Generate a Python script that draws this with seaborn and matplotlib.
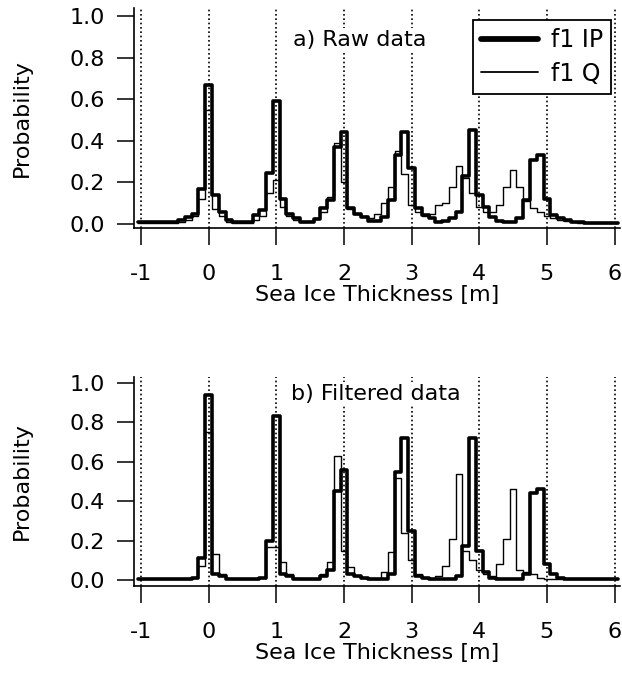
import numpy as np
import pandas as pd
import matplotlib
matplotlib.use("Agg")
import matplotlib.pyplot as plt
import seaborn as sns
from matplotlib.lines import Line2D

# ---------------- data (probability per 0.1 m thickness bin) ----------------
bin_centers = [round(-1.0 + 0.1 * k, 1) for k in range(71)]

raw_ip = [0.01, 0.01, 0.01, 0.01, 0.01, 0.01, 0.02, 0.035, 0.05, 0.17,
          0.67, 0.14, 0.06, 0.02, 0.01, 0.01, 0.01, 0.043, 0.067, 0.245,
          0.59, 0.12, 0.05, 0.03, 0.01, 0.01, 0.025, 0.075, 0.115, 0.37,
          0.44, 0.077, 0.05, 0.035, 0.015, 0.015, 0.035, 0.115, 0.33, 0.44,
          0.27, 0.077, 0.045, 0.03, 0.01, 0.015, 0.03, 0.06, 0.23, 0.45,
          0.14, 0.083, 0.035, 0.015, 0.01, 0.01, 0.03, 0.115, 0.31, 0.33,
          0.12, 0.043, 0.03, 0.02, 0.01, 0.01, 0.005, 0.005, 0.005, 0.005,
          0.005]
raw_q = [0.005, 0.005, 0.005, 0.005, 0.005, 0.005, 0.01, 0.02, 0.04, 0.12,
         0.55, 0.07, 0.04, 0.01, 0.005, 0.005, 0.005, 0.02, 0.04, 0.15,
         0.21, 0.08, 0.04, 0.02, 0.01, 0.015, 0.03, 0.06, 0.13, 0.39,
         0.20, 0.07, 0.05, 0.04, 0.03, 0.05, 0.10, 0.18, 0.35, 0.24,
         0.09, 0.06, 0.04, 0.05, 0.09, 0.10, 0.18, 0.28, 0.22, 0.15,
         0.08, 0.06, 0.06, 0.09, 0.18, 0.26, 0.18, 0.11, 0.075, 0.06,
         0.04, 0.03, 0.02, 0.015, 0.01, 0.005, 0.005, 0.005, 0.005, 0.005,
         0.005]
filt_ip = [0.005, 0.005, 0.005, 0.005, 0.005, 0.005, 0.005, 0.005, 0.01, 0.11,
           0.94, 0.03, 0.02, 0.005, 0.005, 0.005, 0.005, 0.005, 0.01, 0.20,
           0.83, 0.03, 0.02, 0.005, 0.005, 0.005, 0.005, 0.02, 0.05, 0.45,
           0.56, 0.03, 0.02, 0.01, 0.005, 0.005, 0.005, 0.03, 0.55, 0.72,
           0.25, 0.02, 0.01, 0.005, 0.005, 0.005, 0.005, 0.02, 0.175, 0.72,
           0.15, 0.04, 0.01, 0.005, 0.005, 0.005, 0.005, 0.03, 0.44, 0.46,
           0.08, 0.03, 0.01, 0.005, 0.005, 0.005, 0.005, 0.005, 0.005, 0.005,
           0.005]
filt_q = [0.005, 0.005, 0.005, 0.005, 0.005, 0.005, 0.005, 0.005, 0.01, 0.07,
          0.75, 0.13, 0.03, 0.01, 0.005, 0.005, 0.005, 0.005, 0.01, 0.17,
          0.17, 0.09, 0.03, 0.01, 0.005, 0.005, 0.005, 0.03, 0.09, 0.63,
          0.15, 0.065, 0.02, 0.01, 0.005, 0.005, 0.04, 0.14, 0.52, 0.24,
          0.10, 0.03, 0.01, 0.005, 0.02, 0.07, 0.21, 0.54, 0.15, 0.10,
          0.05, 0.03, 0.02, 0.08, 0.21, 0.46, 0.05, 0.04, 0.03, 0.01,
          0.005, 0.005, 0.005, 0.005, 0.005, 0.005, 0.005, 0.005, 0.005, 0.005,
          0.005]

series_labels = ["f1 IP", "f1 Q"]
panel_titles = ["a) Raw data", "b) Filtered data"]
x_ticks = [-1, 0, 1, 2, 3, 4, 5, 6]
y_ticks = [0.0, 0.2, 0.4, 0.6, 0.8, 1.0]

# ---------------- tidy table ----------------
n = len(bin_centers)
df = pd.DataFrame({
    "thickness": bin_centers * 4,
    "prob": raw_ip + raw_q + filt_ip + filt_q,
    "panel": [panel_titles[0]] * (2 * n) + [panel_titles[1]] * (2 * n),
    "series": ([series_labels[0]] * n + [series_labels[1]] * n) * 2,
})
bw = 0.1
edges = [c - bw / 2 for c in bin_centers] + [bin_centers[-1] + bw / 2]

# ---------------- style ----------------
sns.set_style("ticks")
plt.rcParams["font.family"] = ["DejaVu Sans"]
plt.rcParams["axes.unicode_minus"] = False
for key in ["text.color", "axes.labelcolor", "xtick.color", "ytick.color",
            "xtick.labelcolor", "ytick.labelcolor", "axes.edgecolor"]:
    plt.rcParams[key] = "black"
FS = 16

W, H = 622, 684
fig = plt.figure(figsize=(W / 100, H / 100), dpi=100)

def ax_rect(left, right, top, bottom):
    return [left / W, 1 - bottom / H, (right - left) / W, (bottom - top) / H]

ax1 = fig.add_axes(ax_rect(134, 620, 8, 228))
ax2 = fig.add_axes(ax_rect(134, 620, 377, 586))

lw_style = {series_labels[0]: 2.6, series_labels[1]: 1.0}

for ax, title, ylim, tpos in [
        (ax1, panel_titles[0], (-0.019, 1.038), (293, 40)),
        (ax2, panel_titles[1], (-0.030, 1.030), (291, 394))]:
    for xv in x_ticks:
        ax.axvline(xv, color="black", lw=1.2, ls=(0, (1, 1.6)), zorder=1)
    sub = df[df["panel"] == title]
    for s in series_labels[::-1]:
        sns.histplot(data=sub[sub["series"] == s], x="thickness", weights="prob",
                     bins=edges, element="step", fill=False, color="black",
                     linewidth=lw_style[s], ax=ax, zorder=3)
    ax.set_xlim(-1.103, 6.08)
    ax.set_ylim(*ylim)
    ax.set_xticks(x_ticks)
    ax.set_xticklabels([str(t) for t in x_ticks])
    ax.set_yticks(y_ticks)
    ax.set_yticklabels([f"{t:.1f}" for t in y_ticks])
    ax.set_xlabel("Sea Ice Thickness [m]", fontsize=FS, labelpad=1)
    ax.set_ylabel("Probability", fontsize=FS, labelpad=27)
    ax.tick_params(axis="both", direction="out", length=12, width=1.1,
                   labelsize=FS, color="black", labelcolor="black")
    ax.tick_params(axis="x", pad=14)
    ax.tick_params(axis="y", pad=9)
    for sp in ["top", "right"]:
        ax.spines[sp].set_visible(False)
    for sp in ["left", "bottom"]:
        ax.spines[sp].set_linewidth(1.2)
        ax.spines[sp].set_color("black")
    ax.set_facecolor("white")
    fig.text(tpos[0] / W, 1 - tpos[1] / H, title, fontsize=FS, va="center",
             ha="left", zorder=10, color="black",
             bbox=dict(facecolor="white", edgecolor="none", pad=1.5))

handles = [Line2D([], [], color="black", lw=lw_style[s] * 1.6 if s == "f1 IP" else 1.3)
           for s in series_labels]
leg = ax1.legend(handles, series_labels, loc="upper right",
                 bbox_to_anchor=(611 / W, 1 - 20 / H),
                 bbox_transform=fig.transFigure, borderaxespad=0,
                 fontsize=FS + 1, frameon=True, fancybox=False,
                 handlelength=2.4, handletextpad=0.55, labelspacing=0.4,
                 borderpad=0.35)
leg.get_frame().set_edgecolor("black")
leg.get_frame().set_linewidth(1.3)
leg.get_frame().set_alpha(1)
leg.set_zorder(20)

fig.savefig("out.png", dpi=100, facecolor="white")
